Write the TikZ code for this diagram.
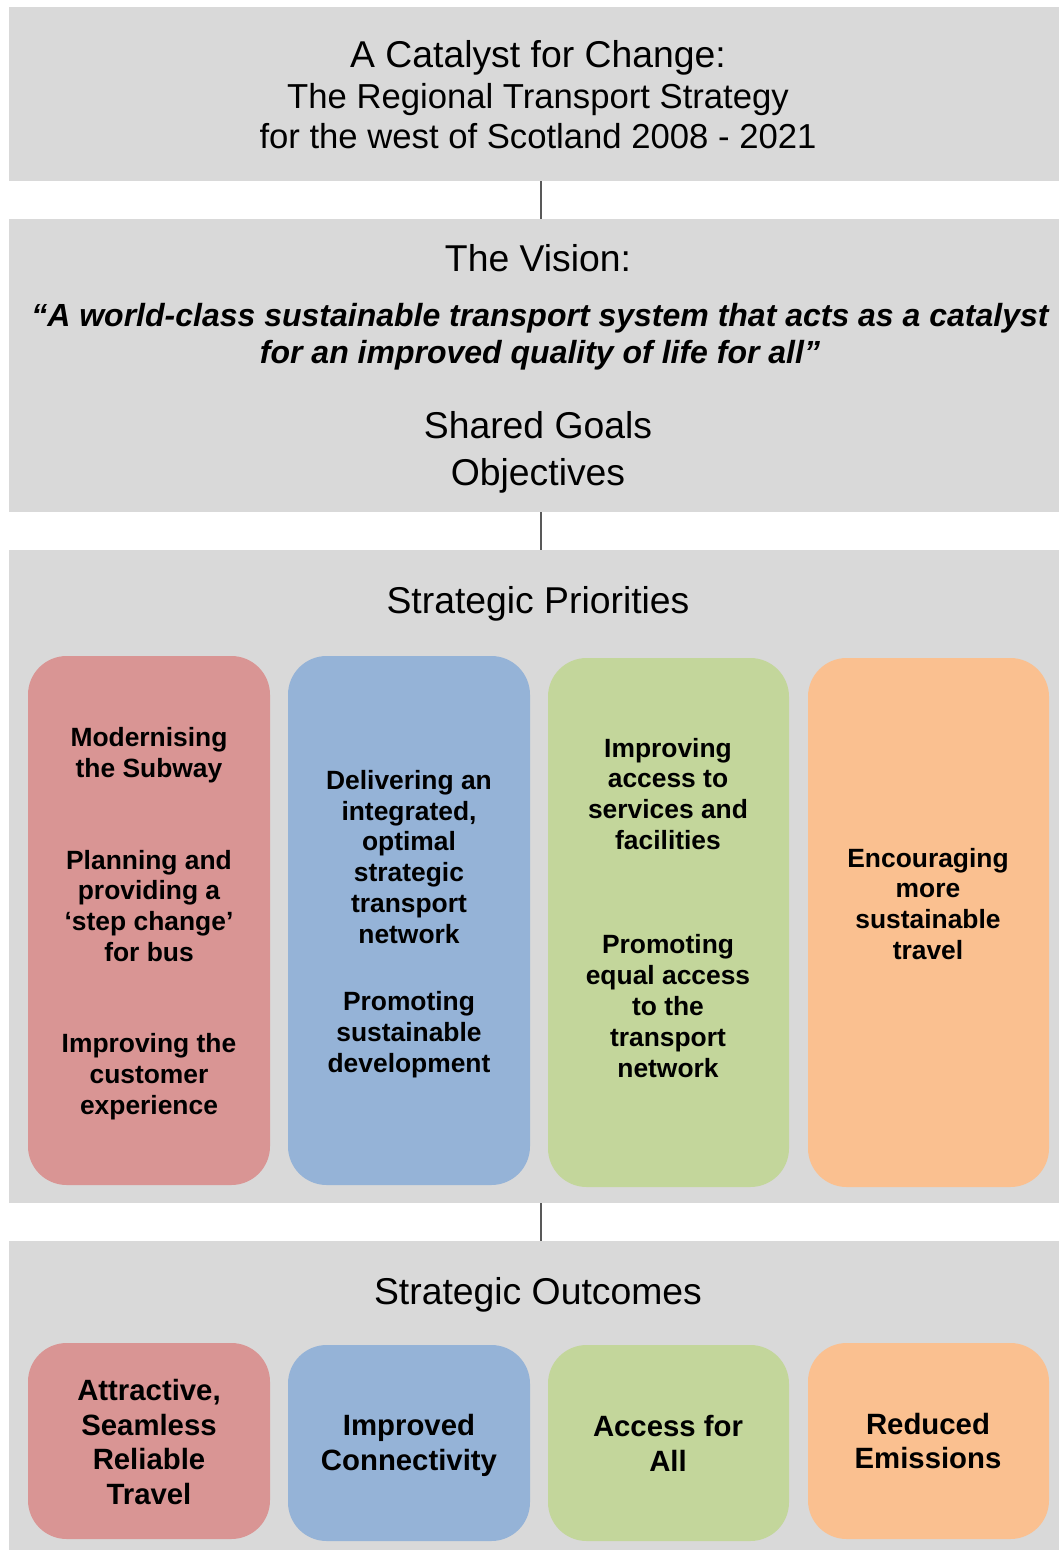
\documentclass[tikz,border=0pt]{standalone}
\usepackage{fontspec}
\setmainfont{Liberation Sans}
\usetikzlibrary{fit}
\definecolor{panelgray}{HTML}{D9D9D9}
\definecolor{cred}{HTML}{D99594}
\definecolor{cblue}{HTML}{95B3D7}
\definecolor{cgreen}{HTML}{C3D69B}
\definecolor{corange}{HTML}{FAC090}
\definecolor{linkgray}{HTML}{595959}
\tikzset{
  panel/.style={fill=panelgray, draw=none, inner sep=0pt},
  pbox/.style={draw=none, inner sep=0pt, rounded corners=29pt},
  link/.style={draw=linkgray, line width=1.1pt},
  head/.style={align=center, inner sep=0pt, font=\fontsize{28}{34}\selectfont},
  titletxt/.style={align=center, inner sep=0pt, font=\fontsize{26}{30.4}\selectfont},
  quotetxt/.style={align=center, inner sep=0pt, font=\fontsize{24}{28}\selectfont\bfseries\itshape},
  ptxt/.style={align=center, inner sep=0pt, font=\fontsize{19.8}{23.2}\selectfont\bfseries},
  otxt/.style={align=center, inner sep=0pt, font=\fontsize{22}{26.2}\selectfont\bfseries},
}
\begin{document}
\begin{tikzpicture}[x=0.75pt,y=-0.75pt]
\useasboundingbox (0,0) rectangle (1059,1550);
% panels
\node[panel, fit={(9,7) (1059,181)}] (p1) {};
\node[panel, fit={(9,219) (1059,512)}] (p2) {};
\node[panel, fit={(9,550) (1059,1203)}] (p3) {};
\node[panel, fit={(9,1241) (1059,1550)}] (p4) {};
\path[link] (p1.south -| 541,0) -- (p2.north -| 541,0);
\path[link] (p2.south -| 541,0) -- (p3.north -| 541,0);
\path[link] (p3.south -| 541,0) -- (p4.north -| 541,0);
% panel 1
\node[titletxt] (title) at (538,95) {{\fontsize{28}{30.4}\selectfont A Catalyst for Change:}\\The Regional Transport Strategy\\for the west of Scotland 2008 - 2021};
% panel 2
\node[head] (vision) at (538,258) {The Vision:};
\node[quotetxt] (quote) at (540,337) {“A world-class sustainable transport system that acts as a catalyst\\for an improved quality of life for all”};
\node[head] (goals) at (538,425) {Shared Goals};
\node[head] (objs) at (538,476) {Objectives};
% panel 3
\node[head] (sp) at (538,604) {Strategic Priorities};
\node[pbox, fill=cred, fit={(28,656) (270,1185)}] (pr) {};
\node[pbox, fill=cblue, fit={(288,656) (530,1185)}] (pb) {};
\node[pbox, fill=cgreen, fit={(548,658) (789,1187)}] (pg) {};
\node[pbox, fill=corange, fit={(808,658) (1049,1187)}] (po) {};
\node[ptxt] (r1) at (149,755) {Modernising\\the Subway};
\node[ptxt] (r2) at (149,906) {Planning and\\providing a\\‘step change’\\for bus};
\node[ptxt] (r3) at (149,1077) {Improving the\\customer\\experience};
\node[ptxt] (b1) at (409,857) {Delivering an\\integrated,\\optimal\\strategic\\transport\\network};
\node[ptxt] (b2) at (409,1035) {Promoting\\sustainable\\development};
\node[ptxt] (g1) at (668,794) {Improving\\access to\\services and\\facilities};
\node[ptxt] (g2) at (668,1006) {Promoting\\equal access\\to the\\transport\\network};
\node[ptxt] (o1) at (928,904) {Encouraging\\more\\sustainable\\travel};
% panel 4
\node[head] (so) at (538,1295) {Strategic Outcomes};
\node[pbox, fill=cred, fit={(28,1343) (270,1539)}] (or) {};
\node[pbox, fill=cblue, fit={(288,1345) (530,1541)}] (ob) {};
\node[pbox, fill=cgreen, fit={(548,1345) (789,1541)}] (og) {};
\node[pbox, fill=corange, fit={(808,1343) (1049,1539)}] (oo) {};
\node[otxt] (t1) at (149,1442) {Attractive,\\Seamless\\Reliable\\Travel};
\node[otxt] (t2) at (409,1445) {Improved\\Connectivity};
\node[otxt] (t3) at (668,1443) {Access for\\All};
\node[otxt] (t4) at (928,1441) {Reduced\\Emissions};
\end{tikzpicture}
\end{document}
